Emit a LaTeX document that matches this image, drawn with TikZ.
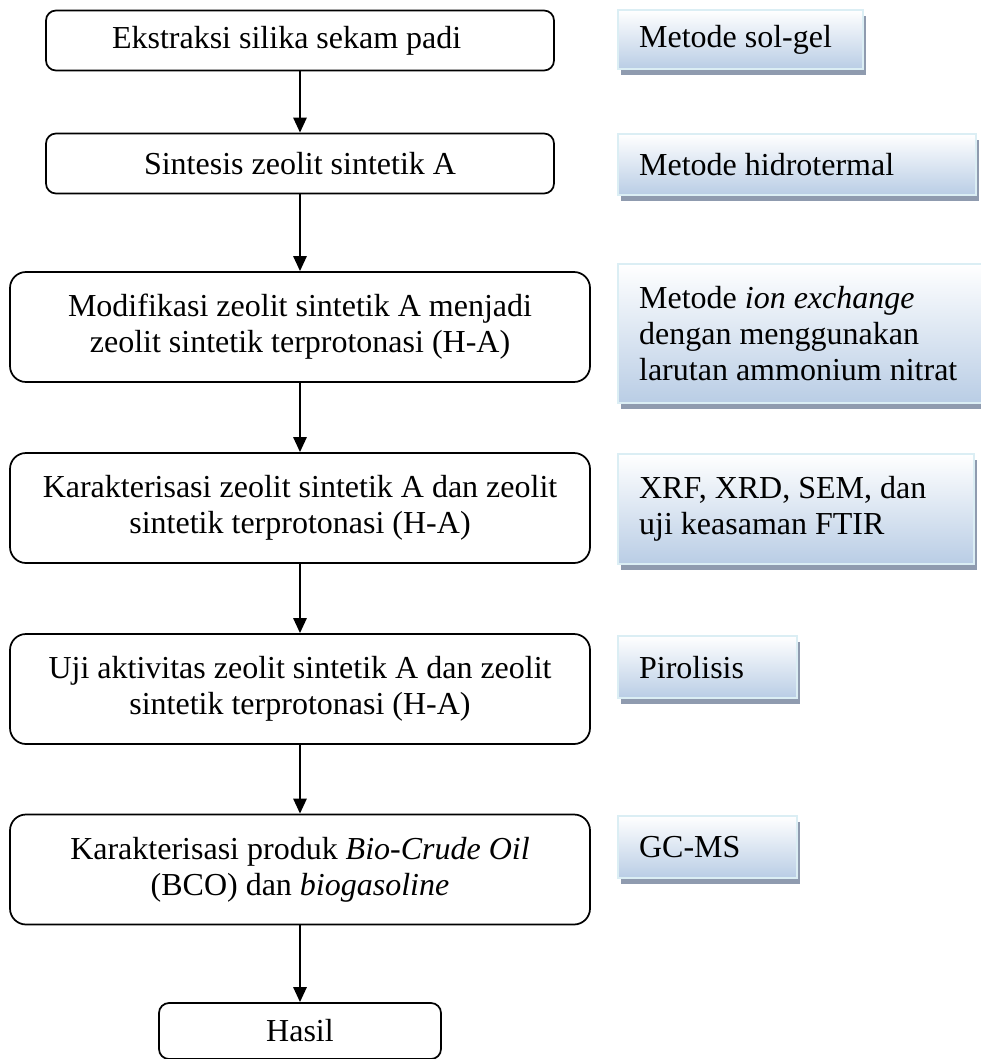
\documentclass[tikz,border=0pt]{standalone}
\usepackage{fontspec}
\setmainfont{Liberation Serif}
\usepackage{tikz}
\usetikzlibrary{arrows.meta, shadows}
\definecolor{my_boxblue}{HTML}{B9CDE5}
\definecolor{my_boxedge}{HTML}{DBEEF4}
\definecolor{my_shadow}{HTML}{8F9BAF}

\begin{document}
\begin{tikzpicture}[
    x=0.375pt, y=-0.375pt,
    font=\fontsize{12}{13.5}\selectfont,
    stepbox/.style={draw=black, line width=0.65pt, rounded corners=6pt,
                    align=center, inner sep=0pt, minimum width=217.5pt,
                    minimum height=41.25pt},
    notebox/.style={draw=my_boxedge, line width=0.8pt, top color=white,
                    bottom color=my_boxblue, anchor=north west,
                    align=flush left, inner xsep=7.9pt, inner ysep=0pt,
                    drop shadow={shadow xshift=1.2pt, shadow yshift=-2.2pt,
                                 fill=my_shadow, opacity=1}},
    flow/.style={line width=0.9pt, -{Triangle[length=5.6pt, width=4.9pt]}}
]
\useasboundingbox (0,0) rectangle (980,1059);

% -------- Main steps (left column) --------------------------
\node[stepbox, rounded corners=3.75pt, minimum width=190.5pt,
      minimum height=22.5pt] (ekstraksi) at (300, 40.5)
    {Ekstraksi silika sekam padi\hspace{10pt}};
\node[stepbox, rounded corners=3.75pt, minimum width=190.5pt,
      minimum height=22.5pt] (sintesis) at (300, 163.5)
    {Sintesis zeolit sintetik A};
\node[stepbox] (modifikasi) at (300, 327)
    {Modifikasi zeolit sintetik A menjadi\\
     zeolit sintetik terprotonasi (H-A)};
\node[stepbox] (karakter) at (300, 508)
    {Karakterisasi zeolit sintetik A dan zeolit\\
     sintetik terprotonasi (H-A)};
\node[stepbox] (uji) at (300, 689)
    {Uji aktivitas zeolit sintetik A dan zeolit\\
     sintetik terprotonasi (H-A)};
\node[stepbox] (produk) at (300, 869.5)
    {Karakterisasi produk \textit{Bio-Crude Oil}\\
     (BCO) dan \textit{biogasoline}};
\node[stepbox, rounded corners=3.75pt, minimum width=105.75pt,
      minimum height=21pt] (hasil) at (300, 1031)
    {Hasil};

% -------- Arrows between the steps --------------------------
\draw[flow] (ekstraksi) -- (sintesis);
\draw[flow] (sintesis) -- (modifikasi);
\draw[flow] (modifikasi) -- (karakter);
\draw[flow] (karakter) -- (uji);
\draw[flow] (uji) -- (produk);
\draw[flow] (produk) -- (hasil);

% -------- Methods (right column) ----------------------------
\node[notebox, text width=76pt, minimum height=22.1pt] (solgel) at (617, 9)
    {Metode sol-gel};
\node[notebox, text width=118.5pt, minimum height=22.9pt] (hidro) at (617, 133)
    {Metode hidrotermal};
\node[notebox, text width=130pt, minimum height=52.1pt] (ionex) at (617, 263)
    {Metode \textit{ion exchange}\\
     dengan menggunakan\\
     larutan ammonium nitrat};
\node[notebox, text width=117.7pt, minimum height=41.25pt] (xrf) at (617, 453)
    {XRF, XRD, SEM, dan\\
     uji keasaman FTIR};
\node[notebox, text width=51.3pt, minimum height=23.25pt] (pirolisis) at (617, 635)
    {Pirolisis};
\node[notebox, text width=51.3pt, minimum height=23.25pt] (gcms) at (617, 815)
    {GC-MS};

\end{tikzpicture}
\end{document}
